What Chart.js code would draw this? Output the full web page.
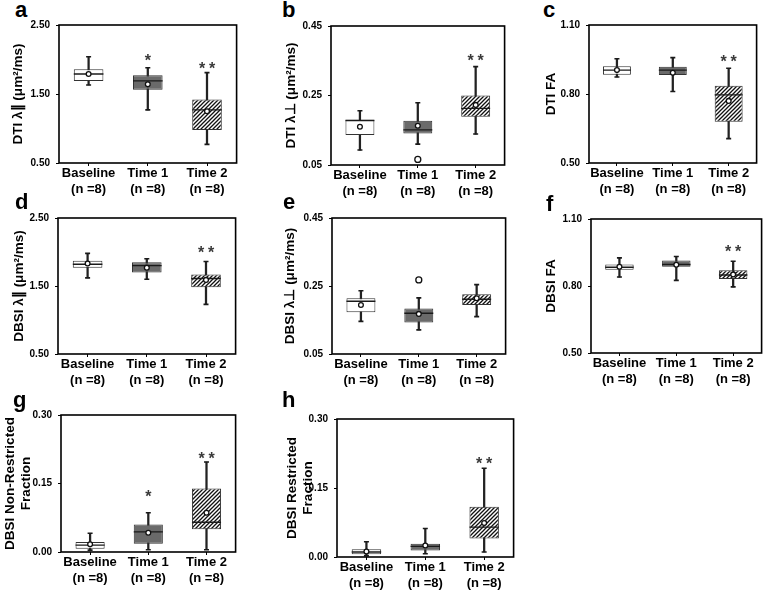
<!DOCTYPE html>
<html>
<head>
<meta charset="utf-8">
<script src="https://cdn.jsdelivr.net/npm/chart.js@4.4.0/dist/chart.umd.min.js"></script>
<style>
body { margin: 0; background: #fff; width: 778px; height: 594px; position: relative; overflow: hidden; }
canvas { position: absolute; }
.tag { position: absolute; font: bold 22px "Liberation Sans", Arial, sans-serif; line-height: 22px; color: #000; }
</style>
</head>
<body>
<script>
// categories shared by every panel
const categories = [['Baseline', '(n =8)'], ['Time 1', '(n =8)'], ['Time 2', '(n =8)']];

// a - DTI axial diffusivity
const aTicks = [0.5, 1.5, 2.5];
const aLow  = [1.63, 1.27, 0.77];
const aQ1   = [1.69, 1.56, 0.98];
const aMed  = [1.79, 1.69, 1.27];
const aQ3   = [1.86, 1.77, 1.42];
const aHigh = [2.04, 1.88, 1.81];
const aMean = [1.79, 1.64, 1.25];
const aOut  = [null, null, null];
const aStar = ['', '*', '**'];
const aStarY = [null, 2.04, 1.92];

// b - DTI radial diffusivity
const bTicks = [0.05, 0.25, 0.45];
const bLow  = [0.093, 0.110, 0.139];
const bQ1   = [0.136, 0.141, 0.189];
const bMed  = [0.178, 0.151, 0.213];
const bQ3   = [0.180, 0.177, 0.250];
const bHigh = [0.206, 0.229, 0.333];
const bMean = [0.160, 0.163, 0.223];
const bOut  = [null, 0.066, null];
const bStar = ['', '', '**'];
const bStarY = [null, null, 0.362];

// c - DTI FA
const cTicks = [0.5, 0.8, 1.1];
const cLow  = [0.874, 0.811, 0.606];
const cQ1   = [0.884, 0.883, 0.679];
const cMed  = [0.904, 0.904, 0.796];
const cQ3   = [0.921, 0.918, 0.836];
const cHigh = [0.953, 0.958, 0.912];
const cMean = [0.904, 0.892, 0.770];
const cOut  = [null, null, null];
const cStar = ['', '', '**'];
const cStarY = [null, null, 0.958];

// d - DBSI axial diffusivity
const dTicks = [0.5, 1.5, 2.5];
const dLow  = [1.62, 1.60, 1.23];
const dQ1   = [1.77, 1.70, 1.48];
const dMed  = [1.82, 1.80, 1.61];
const dQ3   = [1.87, 1.85, 1.67];
const dHigh = [1.98, 1.90, 1.86];
const dMean = [1.83, 1.77, 1.59];
const dOut  = [null, null, null];
const dStar = ['', '', '**'];
const dStarY = [null, null, 2.05];

// e - DBSI radial diffusivity
const eTicks = [0.05, 0.25, 0.45];
const eLow  = [0.146, 0.121, 0.160];
const eQ1   = [0.173, 0.143, 0.194];
const eMed  = [0.205, 0.170, 0.211];
const eQ3   = [0.214, 0.184, 0.226];
const eHigh = [0.236, 0.215, 0.254];
const eMean = [0.194, 0.168, 0.214];
const eOut  = [null, 0.268, null];
const eStar = ['', '', ''];
const eStarY = [null, null, null];

// f - DBSI FA
const fTicks = [0.5, 0.8, 1.1];
const fLow  = [0.840, 0.825, 0.796];
const fQ1   = [0.873, 0.886, 0.831];
const fMed  = [0.884, 0.896, 0.849];
const fQ3   = [0.896, 0.914, 0.871];
const fHigh = [0.926, 0.932, 0.911];
const fMean = [0.886, 0.895, 0.852];
const fOut  = [null, null, null];
const fStar = ['', '', '**'];
const fStarY = [null, null, 0.970];

// g - DBSI non-restricted fraction
const gTicks = [0, 0.15, 0.3];
const gLow  = [0.004, 0.005, 0.005];
const gQ1   = [0.007, 0.018, 0.050];
const gMed  = [0.015, 0.044, 0.065];
const gQ3   = [0.022, 0.060, 0.139];
const gHigh = [0.041, 0.086, 0.197];
const gMean = [0.017, 0.042, 0.086];
const gOut  = [null, null, null];
const gStar = ['', '*', '**'];
const gStarY = [null, 0.129, 0.212];

// h - DBSI restricted fraction
const hTicks = [0, 0.15, 0.3];
const hLow  = [0.003, 0.007, 0.011];
const hQ1   = [0.006, 0.014, 0.040];
const hMed  = [0.011, 0.023, 0.065];
const hQ3   = [0.017, 0.029, 0.109];
const hHigh = [0.033, 0.062, 0.193];
const hMean = [0.012, 0.025, 0.074];
const hOut  = [null, null, null];
const hStar = ['', '', '**'];
const hStarY = [null, null, 0.211];

const FONT = "'Liberation Sans', Arial, sans-serif";

// panel layout: frame = plot box [left, top, right, bottom], x0 = canvas left
const panels = [
  {tag: 'a', tx: 15,  tb: 18,  frame: [59, 25, 248, 163],   x0: 10,  title: 'DTI λ\u2225 (μm²/ms)',
   ticks: aTicks, low: aLow, q1: aQ1, med: aMed, q3: aQ3, high: aHigh, mean: aMean, out: aOut, star: aStar, starY: aStarY},
  {tag: 'b', tx: 282, tb: 18,  frame: [331, 26, 516, 165],  x0: 283, title: 'DTI λ\u22A5 (μm²/ms)',
   ticks: bTicks, low: bLow, q1: bQ1, med: bMed, q3: bQ3, high: bHigh, mean: bMean, out: bOut, star: bStar, starY: bStarY},
  {tag: 'c', tx: 543, tb: 18,  frame: [589, 25, 768, 163],  x0: 543, title: 'DTI FA',
   ticks: cTicks, low: cLow, q1: cQ1, med: cMed, q3: cQ3, high: cHigh, mean: cMean, out: cOut, star: cStar, starY: cStarY},
  {tag: 'd', tx: 15,  tb: 210, frame: [58, 218, 247, 354],  x0: 11,  title: 'DBSI λ\u2225 (μm²/ms)',
   ticks: dTicks, low: dLow, q1: dQ1, med: dMed, q3: dQ3, high: dHigh, mean: dMean, out: dOut, star: dStar, starY: dStarY},
  {tag: 'e', tx: 283, tb: 210, frame: [332, 218, 517, 354], x0: 282, title: 'DBSI λ\u22A5 (μm²/ms)',
   ticks: eTicks, low: eLow, q1: eQ1, med: eMed, q3: eQ3, high: eHigh, mean: eMean, out: eOut, star: eStar, starY: eStarY},
  {tag: 'f', tx: 546, tb: 212, frame: [591, 219, 773, 353], x0: 543, title: 'DBSI FA',
   ticks: fTicks, low: fLow, q1: fQ1, med: fMed, q3: fQ3, high: fHigh, mean: fMean, out: fOut, star: fStar, starY: fStarY},
  {tag: 'g', tx: 13,  tb: 408, frame: [61, 415, 247, 552],  x0: 2,   title: ['DBSI Non-Restricted', 'Fraction'],
   ticks: gTicks, low: gLow, q1: gQ1, med: gMed, q3: gQ3, high: gHigh, mean: gMean, out: gOut, star: gStar, starY: gStarY},
  {tag: 'h', tx: 282, tb: 408, frame: [337, 419, 525, 557], x0: 284, title: ['DBSI Restricted', 'Fraction'],
   ticks: hTicks, low: hLow, q1: hQ1, med: hMed, q3: hQ3, high: hHigh, mean: hMean, out: hOut, star: hStar, starY: hStarY}
];

// draws the closed frame round the plot area
const framePlugin = {
  id: 'frame',
  afterDraw(chart) {
    const a = chart.chartArea, ctx = chart.ctx;
    ctx.save();
    ctx.strokeStyle = '#000';
    ctx.lineWidth = 1.6;
    ctx.strokeRect(a.left, a.top, a.right - a.left, a.bottom - a.top);
    ctx.restore();
  }
};

function starPlugin(p) {
  return {
    id: 'stars',
    afterDatasetsDraw(chart) {
      const ctx = chart.ctx, xs = chart.scales.x, ys = chart.scales.y;
      ctx.save();
      ctx.fillStyle = '#3a3a3a';
      ctx.font = 'bold 16px ' + FONT;
      ctx.textAlign = 'center';
      ctx.textBaseline = 'alphabetic';
      p.star.forEach((s, i) => {
        if (!s) return;
        const x = xs.getPixelForValue(i), y = ys.getPixelForValue(p.starY[i]);
        for (let k = 0; k < s.length; k++) {
          ctx.fillText('*', x + (k - (s.length - 1) / 2) * 10, y + 9);
        }
      });
      ctx.restore();
    }
  };
}

function hatch(ctx) {
  const t = document.createElement('canvas');
  t.width = 4; t.height = 4;
  const g = t.getContext('2d');
  g.fillStyle = '#fff';
  g.fillRect(0, 0, 4, 4);
  g.strokeStyle = '#111';
  g.lineWidth = 1.3;
  g.beginPath();
  g.moveTo(-1, 5); g.lineTo(5, -1);
  g.moveTo(-1, 1); g.lineTo(1, -1);
  g.moveTo(3, 5); g.lineTo(5, 3);
  g.stroke();
  return ctx.createPattern(t, 'repeat');
}

function makePanel(p) {
  const tag = document.createElement('div');
  tag.className = 'tag';
  tag.textContent = p.tag;
  tag.style.left = p.tx + 'px';
  tag.style.top = (p.tb - 18.6) + 'px';
  document.body.appendChild(tag);

  const [L, T, R, B] = p.frame;
  const x0 = p.x0, y0 = T - 25;
  const right = Math.min(5, 778 - R);
  const cv = document.createElement('canvas');
  cv.width = R + right - x0;
  cv.height = B + 42 - y0;
  cv.style.left = x0 + 'px';
  cv.style.top = y0 + 'px';
  document.body.appendChild(cv);
  const ctx = cv.getContext('2d');

  const halfBox = c => c.chart.chartArea ? (c.chart.chartArea.right - c.chart.chartArea.left) / 3 * 0.25 : 15;
  const pointSet = (data, extra) => Object.assign({
    type: 'line', data: data, showLine: false, pointHoverRadius: 0
  }, extra);

  new Chart(ctx, {
    type: 'bar',
    data: {
      labels: categories,
      datasets: [
        {data: p.low.map((v, i) => [v, p.high[i]]), backgroundColor: '#222', barThickness: 1.6, grouped: false, order: 6},
        {data: p.q1.map((v, i) => [v, p.q3[i]]), backgroundColor: ['#fff', '#6a6a6a', hatch(ctx)],
         borderColor: '#333', borderWidth: 1, borderSkipped: false,
         barPercentage: 0.5, categoryPercentage: 1, grouped: false, order: 5},
        pointSet(p.med, {pointStyle: 'line', pointRadius: halfBox, borderColor: '#1a1a1a', pointBorderWidth: 1.4, order: 4}),
        pointSet(p.low, {pointStyle: 'line', pointRadius: 2.5, borderColor: '#1a1a1a', pointBorderWidth: 1.6, order: 4}),
        pointSet(p.high, {pointStyle: 'line', pointRadius: 2.5, borderColor: '#1a1a1a', pointBorderWidth: 1.6, order: 4}),
        pointSet(p.mean, {pointStyle: 'circle', pointRadius: 2.4, pointBackgroundColor: '#fff', borderColor: '#111', pointBorderWidth: 1.3, order: 1}),
        pointSet(p.out, {pointStyle: 'circle', pointRadius: 3, pointBackgroundColor: '#fff', borderColor: '#111', pointBorderWidth: 1.3, order: 1})
      ]
    },
    options: {
      responsive: false,
      animation: false,
      events: [],
      layout: {padding: {top: T - y0, right: right, left: 0, bottom: 0}},
      plugins: {legend: {display: false}, tooltip: {enabled: false}},
      scales: {
        x: {
          grid: {offset: false, drawOnChartArea: false, tickLength: 3, color: '#000'},
          border: {display: false},
          ticks: {font: {family: FONT, size: 13, weight: 'bold'}, color: '#000', padding: 0, maxRotation: 0, autoSkip: false},
          afterFit: s => { s.height = 42; }
        },
        y: {
          min: p.ticks[0],
          max: p.ticks[p.ticks.length - 1],
          afterBuildTicks: s => { s.ticks = p.ticks.map(v => ({value: v})); },
          ticks: {font: {family: FONT, size: 10, weight: 'bold'}, color: '#000', padding: 6, callback: v => Number(v).toFixed(2)},
          grid: {drawOnChartArea: false, tickLength: 3, color: '#000'},
          border: {display: false},
          title: {display: true, text: p.title, font: {family: FONT, size: 13.5, weight: 'bold'}, color: '#000', padding: 0},
          afterFit: s => { s.width = L - x0; }
        }
      }
    },
    plugins: [framePlugin, starPlugin(p)]
  });
}

panels.forEach(makePanel);
</script>
</body>
</html>
